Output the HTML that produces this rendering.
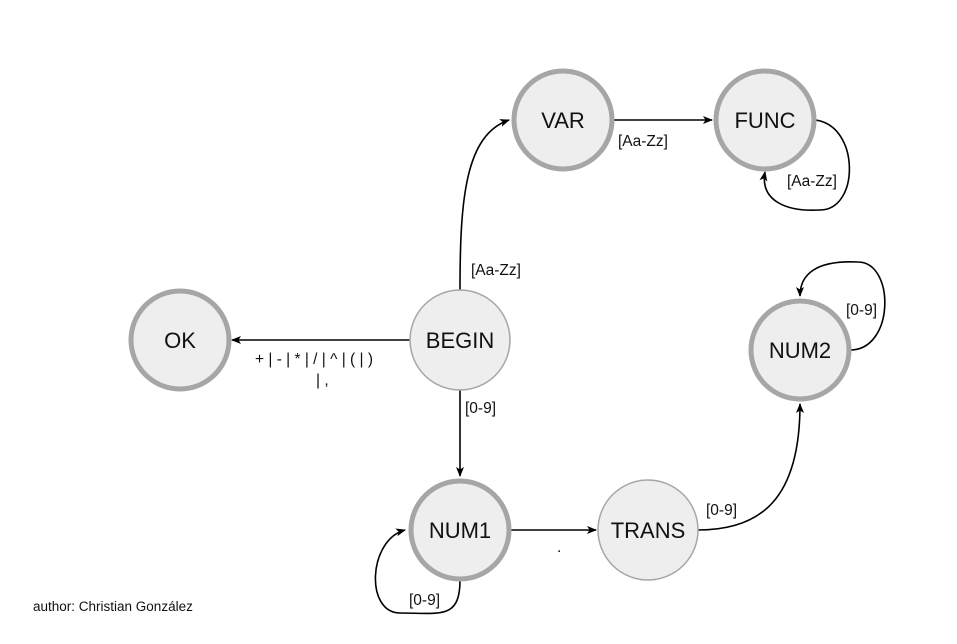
<!DOCTYPE html>
<html><head><style>body{margin:0;background:#fff}svg{display:block}</style></head><body>
<svg width="957" height="644" xmlns="http://www.w3.org/2000/svg" font-family="Liberation Sans, Arial, sans-serif">
<defs><marker id="a" markerWidth="10" markerHeight="10" refX="9" refY="5" orient="auto" markerUnits="userSpaceOnUse"><path d="M0,1 L10,5 L0,9 L2.5,5z" fill="#000"/></marker></defs>
<g fill="none" stroke="#000" stroke-width="1.6">
<path d="M460,290 C460,200 465,135 509,120" marker-end="url(#a)"/>
<path d="M613,120 L712,120" marker-end="url(#a)"/>
<path d="M815,120 C860,125 860,210 820,210 C785,212 760,200 765,172" marker-end="url(#a)"/>
<path d="M410,340 L232,340" marker-end="url(#a)"/>
<path d="M460,390 L460,476" marker-end="url(#a)"/>
<path d="M510,530 L596,530" marker-end="url(#a)"/>
<path d="M698,530 C760,530 800,500 800,404" marker-end="url(#a)"/>
<path d="M850,350 C895,350 895,262 858,262 C815,260 800,275 800,296" marker-end="url(#a)"/>
<path d="M460,580 C460,620 440,613 400,613 C365,613 368,540 405,530" marker-end="url(#a)"/>
</g>
<g fill="#eeeeee" stroke="#a6a6a6" stroke-width="5">
<circle cx="563" cy="120" r="49"/><circle cx="765" cy="120" r="49"/><circle cx="180" cy="340" r="49"/><circle cx="800" cy="350" r="49"/><circle cx="460" cy="530" r="49"/>
</g>
<g fill="#eeeeee" stroke="#a6a6a6" stroke-width="1.5">
<circle cx="460" cy="340" r="50"/><circle cx="648" cy="530" r="50"/>
</g>
<g font-size="22" text-anchor="middle" fill="#111">
<text x="563" y="128">VAR</text><text x="765" y="128">FUNC</text><text x="180" y="348">OK</text><text x="460" y="348">BEGIN</text><text x="800" y="358">NUM2</text><text x="460" y="538">NUM1</text><text x="648" y="538">TRANS</text>
</g>
<g font-size="15.5" fill="#111">
<text x="618" y="146">[Aa-Zz]</text><text x="787" y="186">[Aa-Zz]</text><text x="471" y="275">[Aa-Zz]</text>
<text x="255" y="364">+ | - | * | / | ^ | ( | )</text><text x="316" y="385">| ,</text>
<text x="465" y="413">[0-9]</text><text x="846" y="315">[0-9]</text><text x="706" y="515">[0-9]</text><text x="409" y="605">[0-9]</text>
<text x="557" y="552">.</text>
<text x="33" y="611" font-size="13.5">author: Christian González</text>
</g>
</svg>
</body></html>
